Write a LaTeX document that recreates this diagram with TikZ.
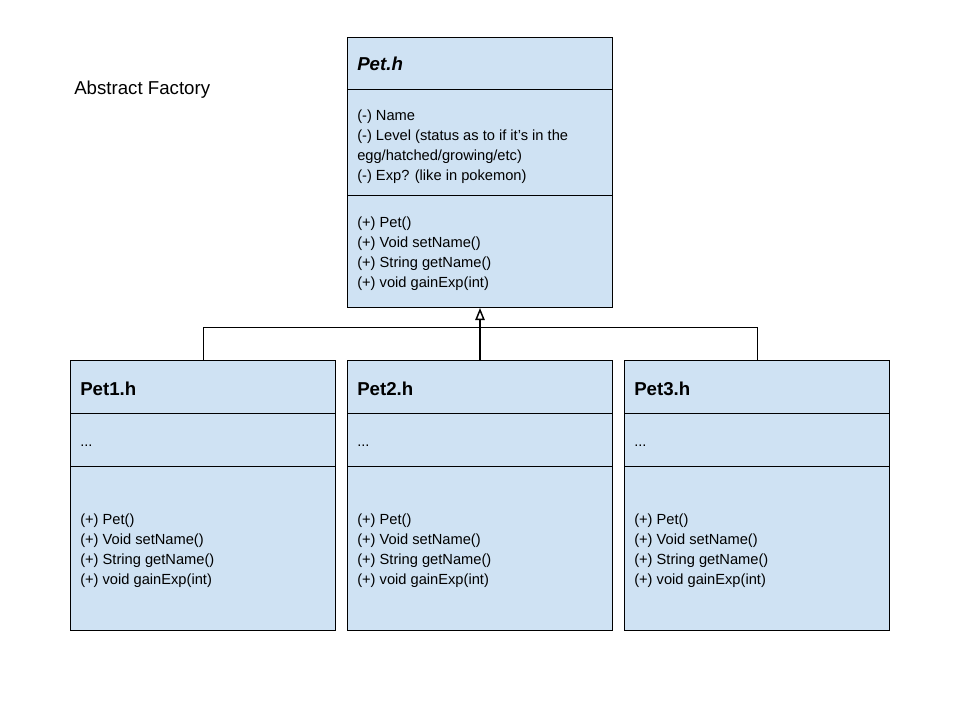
\documentclass[tikz,border=0pt]{standalone}
\usepackage{fontspec}
\setmainfont{Liberation Sans}
\usetikzlibrary{arrows.meta}
\definecolor{boxfill}{HTML}{CFE2F3}
\begin{document}
\begin{tikzpicture}[x=0.75pt,y=-0.75pt,
  umlbox/.style={draw=black,fill=boxfill,line width=0.75pt,minimum width=198.75pt,minimum height=202.5pt,anchor=north west,inner sep=0pt},
  divider/.style={line width=0.75pt},
  title/.style={font=\fontsize{14}{17}\selectfont\bfseries,anchor=base west,inner sep=0pt},
  body/.style={font=\fontsize{11}{15}\selectfont,anchor=base west,inner sep=0pt,align=left},
  conn/.style={line width=0.75pt}]
\useasboundingbox (0,0) rectangle (960,720);
\fill[white] (0,0) rectangle (960,720);

\node[font=\fontsize{14}{17}\selectfont,anchor=base west,inner sep=0pt] (label) at (74,95) {Abstract Factory};

% parent
\node[umlbox] (pet) at (347,37) {};
\draw[divider] (347,90) -- (612,90);
\draw[divider] (347,196) -- (612,196);
\node[title,font=\fontsize{14}{17}\selectfont\bfseries\itshape] (pettitle) at (357,71) {Pet.h};
% multi-line nodes: base anchor is the baseline of the last line
\node[body] (petattr) at (357,181) {(-) Name\\(-) Level (status as to if it’s in the\\egg/hatched/growing/etc)\\(-) Exp? (like in pokemon)};
\node[body] (petops) at (357,287) {(+) Pet()\\(+) Void setName()\\(+) String getName()\\(+) void gainExp(int)};

% children
\foreach \n/\x in {1/70,2/347,3/624}{
  \node[umlbox] (pet\n) at (\x,360) {};
  \draw[divider] (\x,413) -- ++(265,0);
  \draw[divider] (\x,466) -- ++(265,0);
  \node[title] (pet\n title) at (\x+10,395) {Pet\n.h};
  \node[body] (pet\n attr) at (\x+10,446) {...};
  \node[body] (pet\n ops) at (\x+10,584) {(+) Pet()\\(+) Void setName()\\(+) String getName()\\(+) void gainExp(int)};
}

% connectors
\draw[conn] (pet1.north) -- ++(0,-33) coordinate (j1) -| (pet3.north);
\draw[line width=1.5pt,-{Triangle[open,width=7pt,length=9pt,line width=1.1pt]}] (pet2.north) -- (pet.south);
\end{tikzpicture}
\end{document}
